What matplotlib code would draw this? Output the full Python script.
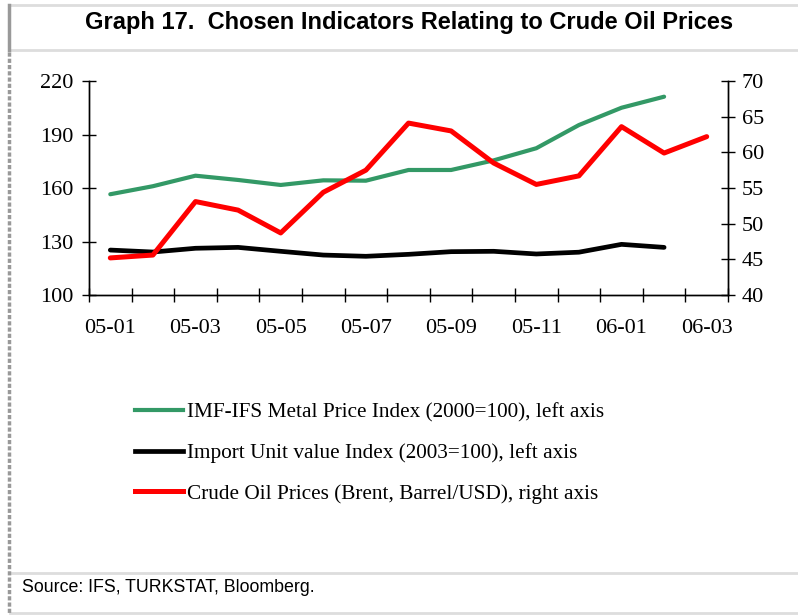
import numpy as np
import matplotlib.pyplot as plt
from matplotlib.lines import Line2D

months = ["05-01", "05-02", "05-03", "05-04", "05-05", "05-06", "05-07", "05-08",
          "05-09", "05-10", "05-11", "05-12", "06-01", "06-02", "06-03"]
metal_index = [156.5, 161.0, 166.9, 164.5, 161.7, 164.3, 164.1, 170.1,
               170.1, 175.5, 182.3, 195.3, 205.0, 211.2]
import_unit = [125.2, 124.1, 126.2, 126.7, 124.5, 122.4, 121.7, 122.8,
               124.3, 124.5, 123.0, 124.0, 128.4, 126.7]
brent = [45.2, 45.6, 53.1, 51.9, 48.7, 54.4, 57.5, 64.1,
         63.0, 58.5, 55.5, 56.7, 63.6, 59.9, 62.2]

W, H = 798, 615
fig = plt.figure(figsize=(W / 100, H / 100), dpi=100)

serif = "Liberation Serif"
sans = "Liberation Sans"

ax = fig.add_axes([89 / W, 1 - 295 / H, (728 - 89) / W, (295 - 81) / H])
ax2 = ax.twinx()

x_metal = np.arange(len(metal_index)) + 0.5
x_import = np.arange(len(import_unit)) + 0.5
x_brent = np.arange(len(brent)) + 0.5

green = "#339966"
ax.plot(x_metal, metal_index, color=green, lw=3.0, solid_capstyle="round")
ax.plot(x_import, import_unit, color="black", lw=3.4, solid_capstyle="round")
ax2.plot(x_brent, brent, color="#ff0000", lw=3.6, solid_capstyle="round")

ax.set_xlim(0, len(months))
ax.set_ylim(100, 220)
ax2.set_ylim(40, 70)
ax.set_yticks(np.arange(100, 221, 30))
ax2.set_yticks(np.arange(40, 71, 5))

ax.set_xticks(np.arange(0, len(months) + 1))
ax.set_xticklabels([])
ax.set_xticks(np.arange(0, len(months), 2) + 0.5, minor=True)
ax.set_xticklabels(months[::2], minor=True)

for a in (ax, ax2):
    a.spines["top"].set_visible(False)
    for s in a.spines.values():
        s.set_linewidth(1.0)
        s.set_color("black")

ax.tick_params(axis="both", which="major", direction="inout", length=10, width=1,
               labelsize=16, pad=7)
ax.tick_params(axis="x", which="minor", length=0, pad=17, labelsize=16)
ax.tick_params(axis="y", pad=6)
ax2.tick_params(axis="y", direction="inout", length=10, width=1, labelsize=16, pad=5)
for lab in ax.get_xticklabels(which="both") + ax.get_yticklabels() + ax2.get_yticklabels():
    lab.set_fontfamily(serif)

handles = [Line2D([], [], color=green, lw=3.0),
           Line2D([], [], color="black", lw=3.4),
           Line2D([], [], color="#ff0000", lw=3.6)]
labels = ["IMF-IFS Metal Price Index (2000=100), left axis",
          "Import Unit value Index (2003=100), left axis",
          "Crude Oil Prices (Brent, Barrel/USD), right axis"]
fig.legend(handles, labels, loc="upper left", bbox_to_anchor=(126 / W, 1 - 394 / H),
           frameon=False, handlelength=2.3, handletextpad=0.15, labelspacing=0.98,
           borderaxespad=0, prop={"family": serif, "size": 15.3})

fig.text(409 / W, 1 - 22 / H, "Graph 17.  Chosen Indicators Relating to Crude Oil Prices",
         ha="center", va="center", fontsize=17, fontweight="bold", family=sans)
fig.text(22 / W, 1 - 588 / H, "Source: IFS, TURKSTAT, Bloomberg.",
         ha="left", va="center", fontsize=12.8, family=sans)

# frame lines
light = "#dddddd"
for yy in (5, 50, 573, 613):
    fig.add_artist(Line2D([10 / W, 1], [1 - yy / H, 1 - yy / H], color=light, lw=2))
fig.add_artist(Line2D([9 / W, 9 / W], [1 - 5 / H, 1 - 50 / H], color="#999999", lw=2.5))
fig.add_artist(Line2D([9 / W, 9 / W], [1 - 52 / H, 0], color="#999999", lw=2.5,
                      linestyle=(0, (1.2, 0.6))))

fig.savefig("out.png", dpi=100)
